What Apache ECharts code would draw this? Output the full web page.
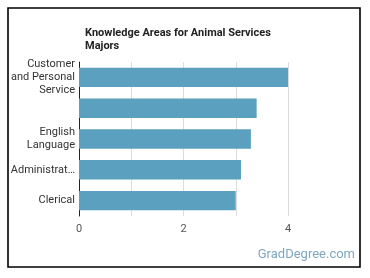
<!DOCTYPE html>
<html><head><meta charset="utf-8">
<script src="https://cdn.jsdelivr.net/npm/echarts@6/dist/echarts.min.js"></script>
<style>html,body{margin:0;padding:0;background:#fff}#c{width:370px;height:278px}</style>
</head><body><div id="c"></div>
<script>
const categories = ["Customer\nand Personal\nService", "", "English\nLanguage", "Administrat\u2026", "Clerical"];
const values = [4.0, 3.4, 3.29, 3.1, 3.0];
const tickLabels = ["0", "2", "4"];

const chart = echarts.init(document.getElementById('c'));
chart.setOption({
  animation: false,
  textStyle: {fontFamily: 'Roboto'},
  title: {
    text: 'Knowledge Areas for Animal Services\nMajors',
    left: 80, top: 22,
    textStyle: {fontSize: 11, fontWeight: 'bold', color: '#222', lineHeight: 13, fontFamily: 'Roboto'}
  },
  graphic: [
    {type: 'rect', shape: {x: 8, y: 8, width: 352, height: 259}, style: {fill: 'none', stroke: '#000', lineWidth: 1.6}, silent: true},
    {type: 'text', right: 15, top: 248, style: {text: 'GradDegree.com', fill: '#7ea6bf', font: '13px Roboto'}}
  ],
  grid: {left: 79, right: 82, top: 62, bottom: 62, containLabel: false},
  xAxis: {
    type: 'value', min: 0, max: 4, interval: 1,
    axisLine: {show: false}, axisTick: {show: false},
    splitLine: {lineStyle: {color: '#dcdcdc', width: 1}},
    axisLabel: {color: '#555', fontSize: 11, margin: 8,
      formatter: v => tickLabels.includes(String(v)) ? String(v) : ''}
  },
  yAxis: {
    type: 'category', data: categories, inverse: true,
    axisLine: {show: true, lineStyle: {color: '#222', width: 1}},
    axisTick: {show: false},
    axisLabel: {color: '#333', fontSize: 11, lineHeight: 13, margin: 4}
  },
  series: [{
    type: 'bar', data: values, barCategoryGap: '37%',
    itemStyle: {color: '#5ba0be'}
  }]
});
</script></body></html>
